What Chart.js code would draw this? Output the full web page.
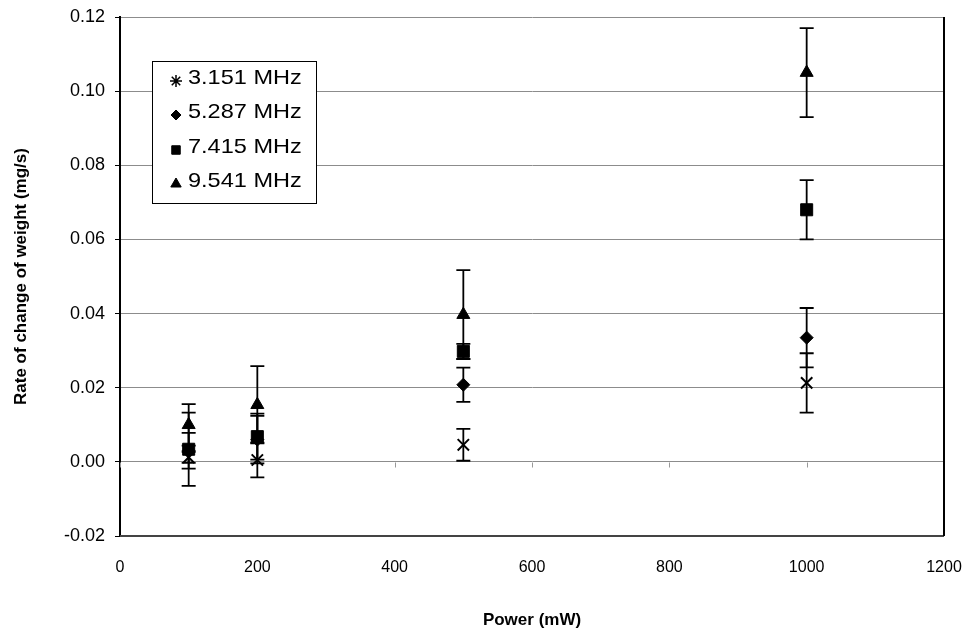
<!DOCTYPE html>
<html>
<head>
<meta charset="utf-8">
<script src="https://cdn.jsdelivr.net/npm/chart.js@4/dist/chart.umd.min.js"></script>
<style>
  body { margin: 0; background: #fff; }
  #wrap { width: 971px; height: 640px; }
</style>
</head>
<body>
<div id="wrap"><canvas id="rateChart" width="971" height="640"></canvas></div>
<script>
// power levels (mW) and measured rates (mg/s) with their error half-widths
const powers = [100, 200, 500, 1000];
const seriesNames = ["3.151 MHz", "5.287 MHz", "7.415 MHz", "9.541 MHz"];
const rate3151 = [0.0012, 0.0005, 0.0046, 0.0213];
const err3151 = [0.0015, 0.0047, 0.0043, 0.008];
const rate5287 = [0.003, 0.006, 0.0208, 0.0335];
const err5287 = [0.0048, 0.0064, 0.0046, 0.008];
const rate7415 = [0.0034, 0.0068, 0.0298, 0.068];
const err7415 = [0.0099, 0.0062, 0.002, 0.008];
const rate9541 = [0.010, 0.0154, 0.0397, 0.105];
const err9541 = [0.0056, 0.0104, 0.012, 0.012];
const xTicks = [0, 200, 400, 600, 800, 1000, 1200];

const FONT = "'Liberation Sans', Arial, sans-serif";

function makeSet(label, rates, errs, style, radius) {
  return {
    label,
    data: powers.map((p, i) => ({ x: p, y: rates[i] })),
    errors: errs,
    pointStyle: style,
    pointRadius: radius,
    pointHoverRadius: radius,
    backgroundColor: "#000",
    borderColor: "#000",
    borderWidth: style === "crossRot" ? 2 : 1,
    showLine: false
  };
}

// error bars, drawn under the markers
const errorBars = {
  id: "errorBars",
  beforeDatasetsDraw(chart) {
    const { ctx, scales: { x, y } } = chart;
    ctx.save();
    ctx.strokeStyle = "#000";
    ctx.lineWidth = 1.8;
    chart.data.datasets.forEach(ds => {
      ds.data.forEach((pt, i) => {
        const e = ds.errors[i];
        const px = x.getPixelForValue(pt.x);
        const top = y.getPixelForValue(pt.y + e);
        const bot = y.getPixelForValue(pt.y - e);
        ctx.beginPath();
        ctx.moveTo(px, top); ctx.lineTo(px, bot);
        ctx.moveTo(px - 7, top); ctx.lineTo(px + 7, top);
        ctx.moveTo(px - 7, bot); ctx.lineTo(px + 7, bot);
        ctx.stroke();
      });
    });
    ctx.restore();
  }
};

// plot frame, x tick marks on the zero line, and the boxed legend
const frame = {
  id: "frame",
  beforeDatasetsDraw(chart) {
    const { ctx, chartArea: a, scales: { x, y } } = chart;
    ctx.save();
    const y0 = Math.round(y.getPixelForValue(0)) + 0.5;
    ctx.strokeStyle = "#999";
    ctx.lineWidth = 1;
    ctx.beginPath();
    xTicks.forEach(v => {
      const px = Math.round(x.getPixelForValue(v)) + 0.5;
      ctx.moveTo(px, y0); ctx.lineTo(px, y0 + 5);
    });
    ctx.stroke();
    ctx.strokeStyle = "#444";
    ctx.lineWidth = 2;
    ctx.beginPath();
    ctx.moveTo(a.left, a.bottom); ctx.lineTo(a.right, a.bottom);
    ctx.stroke();
    ctx.strokeStyle = "#000";
    ctx.beginPath();
    ctx.moveTo(a.right, a.top); ctx.lineTo(a.right, a.bottom);
    ctx.stroke();
    ctx.restore();
  },
  afterDraw(chart) {
    const { ctx } = chart;
    const bx = 152, by = 61, bw = 164, bh = 142;
    ctx.save();
    ctx.fillStyle = "#fff";
    ctx.fillRect(bx, by, bw, bh);
    ctx.strokeStyle = "#000";
    ctx.lineWidth = 1;
    ctx.strokeRect(bx + 0.5, by + 0.5, bw, bh);
    const rows = [78, 112, 147, 181];
    const sizes = [6, 5, 6, 6];
    chart.data.datasets.forEach((ds, i) => {
      ctx.fillStyle = "#000";
      ctx.strokeStyle = "#000";
      ctx.lineWidth = ds.pointStyle === "crossRot" ? 1.5 : 1;
      const style = ds.pointStyle === "crossRot" ? "star" : ds.pointStyle;
      Chart.helpers.drawPoint(ctx, { pointStyle: style, radius: sizes[i], borderWidth: ctx.lineWidth }, 176, rows[i] + 3);
      ctx.save();
      ctx.translate(188, rows[i]);
      ctx.scale(1.12, 1);
      ctx.font = "21px " + FONT;
      ctx.textBaseline = "middle";
      ctx.fillText(ds.label, 0, 0);
      ctx.restore();
    });
    ctx.restore();
  }
};

new Chart(document.getElementById("rateChart"), {
  type: "scatter",
  data: {
    datasets: [
      makeSet(seriesNames[0], rate3151, err3151, "crossRot", 8),
      makeSet(seriesNames[1], rate5287, err5287, "rectRot", 6.5),
      makeSet(seriesNames[2], rate7415, err7415, "rect", 8.5),
      makeSet(seriesNames[3], rate9541, err9541, "triangle", 7.5)
    ]
  },
  options: {
    responsive: false,
    animation: false,
    layout: { padding: { top: 17, right: 27, left: 0, bottom: 0 } },
    plugins: { legend: { display: false }, tooltip: { enabled: false } },
    scales: {
      x: {
        type: "linear",
        min: 0, max: 1200,
        afterFit(s) { s.height = 104; s.paddingLeft = 0; s.paddingRight = 0; },
        afterBuildTicks(s) { s.ticks = xTicks.map(v => ({ value: v })); },
        ticks: { color: "#000", padding: 14, font: { family: FONT, size: 16 }, callback: v => String(v) },
        grid: { display: false },
        border: { display: false },
        title: { display: true, text: "Power (mW)", color: "#000", padding: { top: 0, bottom: 9 }, font: { family: FONT, size: 17, weight: "bold" } }
      },
      y: {
        min: -0.02, max: 0.12,
        afterFit(s) { s.width = 120; s.paddingTop = 0; s.paddingBottom = 0; },
        ticks: {
          stepSize: 0.02, color: "#000", padding: 10,
          font: { family: FONT, size: 18 },
          callback: v => (Math.abs(v) < 1e-9 ? 0 : v).toFixed(2)
        },
        grid: {
          color: c => (c.tick && c.tick.value < -0.019 ? "rgba(0,0,0,0)" : "#8c8c8c"),
          tickColor: "#000", tickLength: 5, lineWidth: 1
        },
        border: { color: "#000", width: 2 },
        title: { display: true, text: "Rate of change of weight (mg/s)", color: "#000", padding: { top: 11, bottom: 0 }, font: { family: FONT, size: 17, weight: "bold" } }
      }
    }
  },
  plugins: [frame, errorBars]
});
</script>
</body>
</html>
